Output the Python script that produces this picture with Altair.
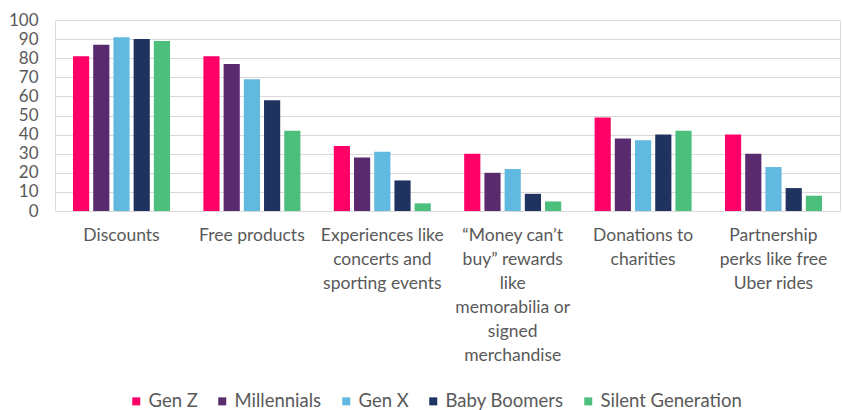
import altair as alt
import pandas as pd

categories = [
    "Discounts",
    "Free products",
    "Experiences like\nconcerts and\nsporting events",
    "\u201cMoney can\u2019t\nbuy\u201d rewards\nlike\nmemorabilia or\nsigned\nmerchandise",
    "Donations to\ncharities",
    "Partnership\nperks like free\nUber rides",
]
generations = ["Gen Z", "Millennials", "Gen X", "Baby Boomers", "Silent Generation"]
gen_z = [81, 81, 34, 30, 49, 40]
millennials = [87, 77, 28, 20, 38, 30]
gen_x = [91, 69, 31, 22, 37, 23]
baby_boomers = [90, 58, 16, 9, 40, 12]
silent = [89, 42, 4, 5, 42, 8]
colors = ["#FF0066", "#5A2A6E", "#62B9DF", "#1F3260", "#4CBF7C"]

series = [gen_z, millennials, gen_x, baby_boomers, silent]
rows = []
for g, vals in zip(generations, series):
    for c, v in zip(categories, vals):
        rows.append({"category": c, "generation": g, "value": v})
df = pd.DataFrame(rows)

FONT = "Lato"

chart = alt.Chart(df).mark_bar().encode(
    x=alt.X(
        "category:N",
        sort=categories,
        title=None,
        scale=alt.Scale(paddingInner=0.256, paddingOuter=0.138),
        axis=alt.Axis(
            labelAngle=0,
            labelExpr="split(datum.label, '\\n')",
            labelFont=FONT,
            labelFontSize=17.5,
            labelColor="#595959",
            labelLineHeight=24,
            labelPadding=15,
            labelBaseline="top",
            labelAlign="center",
            ticks=False,
            domain=False,
            labelLimit=0,
        ),
    ),
    xOffset=alt.XOffset("generation:N", sort=generations, scale=alt.Scale(paddingInner=0.2, paddingOuter=0)),
    y=alt.Y(
        "value:Q",
        title=None,
        scale=alt.Scale(domain=[0, 100], nice=False),
        axis=alt.Axis(
            values=list(range(0, 101, 10)),
            labelFont=FONT,
            labelFontSize=17,
            labelColor="#595959",
            labelPadding=17,
            ticks=False,
            domain=False,
            gridColor="#D9D9D9",
            gridWidth=1,
        ),
    ),
    color=alt.Color(
        "generation:N",
        sort=generations,
        scale=alt.Scale(domain=generations, range=colors),
        legend=alt.Legend(
            title=None,
            orient="none",
            direction="horizontal",
            legendX=72,
            legendY=372,
            symbolType="square",
            symbolSize=64,
            symbolStrokeWidth=0,
            labelFont=FONT,
            labelFontSize=18.5,
            labelColor="#595959",
            columnPadding=15,
            labelOffset=3,
        ),
    ),
).properties(
    width=785,
    height=191,
    autosize=alt.AutoSizeParams(type="none"),
    padding={"left": 55, "top": 20, "right": 2, "bottom": 199},
).configure_view(stroke=None).configure(background="white")

chart.save("out.html", embed_options={"renderer": "svg", "actions": False})
